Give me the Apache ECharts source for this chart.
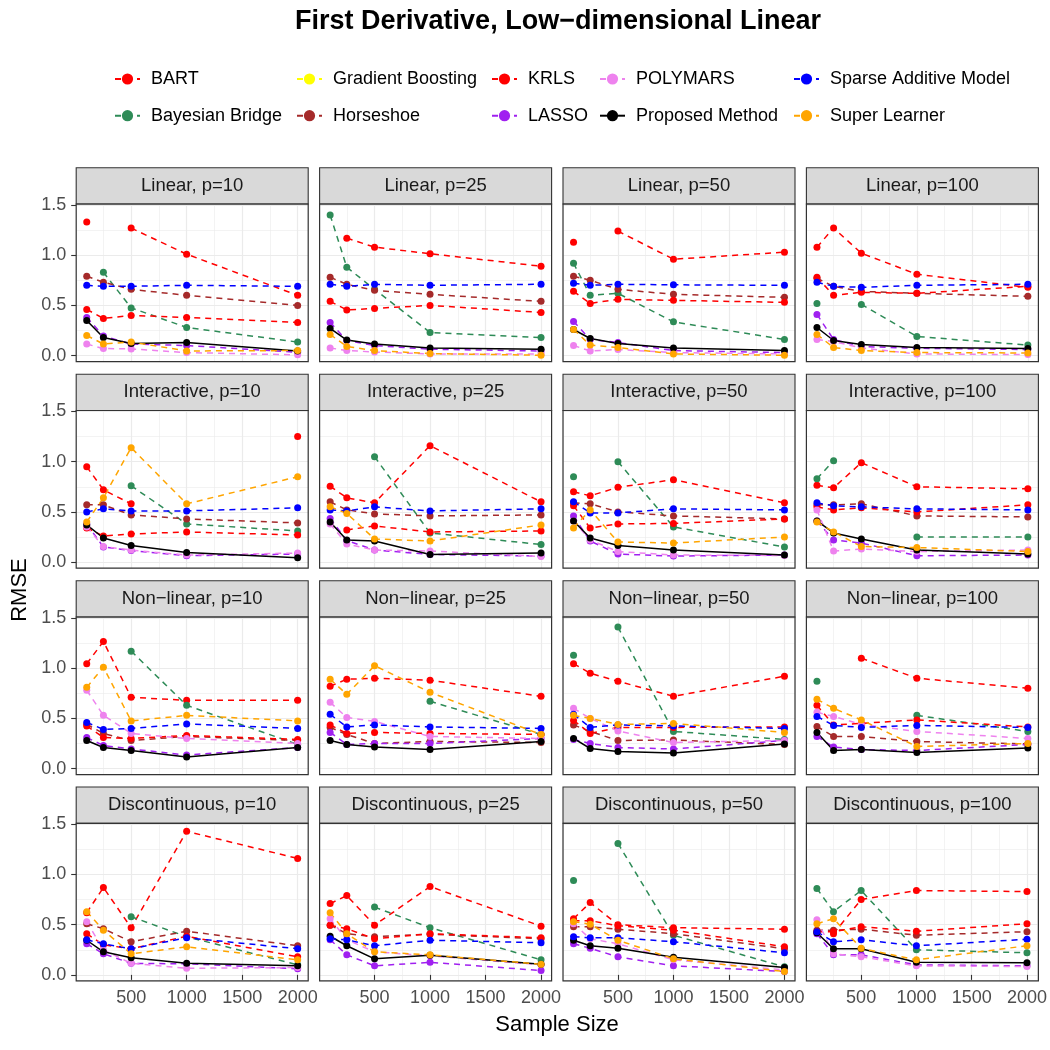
<!DOCTYPE html>
<html><head><meta charset="utf-8">
<script src="https://cdn.jsdelivr.net/npm/echarts@6/dist/echarts.min.js"></script>
<style>html,body{margin:0;padding:0;background:#fff}#c{width:1050px;height:1050px}</style>
</head><body><div id="c"></div>
<script>
// ---------------- data ----------------
const sampleSizes = [100, 250, 500, 1000, 2000];
const panelTitles = [
  'Linear, p=10', 'Linear, p=25', 'Linear, p=50', 'Linear, p=100',
  'Interactive, p=10', 'Interactive, p=25', 'Interactive, p=50', 'Interactive, p=100',
  'Non\u2212linear, p=10', 'Non\u2212linear, p=25', 'Non\u2212linear, p=50', 'Non\u2212linear, p=100',
  'Discontinuous, p=10', 'Discontinuous, p=25', 'Discontinuous, p=50', 'Discontinuous, p=100'
];
const xTickValues = [500, 1000, 1500, 2000];
const yTickValues = [0, 0.5, 1.0, 1.5];
const methodNames = ['BART', 'Bayesian Bridge', 'Gradient Boosting', 'Horseshoe', 'KRLS', 'LASSO',
  'POLYMARS', 'Proposed Method', 'Sparse Additive Model', 'Super Learner'];

// one row per panel (same order as panelTitles), one value per sample size
const bart = [
  [1.33, null, 1.27, 1.01, 0.60], [null, 1.17, 1.08, 1.015, 0.89], [1.13, null, 1.24, 0.96, 1.03], [1.08, 1.27, 1.02, 0.81, 0.68],
  [0.95, 0.72, 0.58, null, 1.25], [0.755, 0.64, 0.59, 1.16, 0.60], [0.70, 0.66, 0.745, 0.82, 0.59], [0.765, 0.74, 0.99, 0.75, 0.73],
  [1.045, 1.266, 0.71, 0.68, 0.68], [0.82, 0.89, 0.90, 0.88, 0.72], [1.045, 0.95, 0.87, 0.72, 0.92], [null, null, 1.10, 0.90, 0.80],
  [0.62, 0.87, 0.47, 1.43, 1.16], [0.71, 0.79, 0.495, 0.88, 0.485], [0.56, 0.72, 0.50, 0.47, 0.455], [null, 0.41, 0.75, 0.84, 0.83]
];
const bayesianBridge = [
  [null, 0.83, 0.475, 0.28, 0.135], [1.40, 0.88, 0.66, 0.23, 0.18], [0.92, 0.60, 0.62, 0.336, 0.16], [0.52, null, 0.51, 0.19, 0.105],
  [null, null, 0.76, 0.38, 0.31], [null, null, 1.05, 0.29, 0.175], [0.85, null, 1.0, 0.35, 0.15], [0.83, 1.01, null, 0.25, 0.25],
  [null, null, 1.17, 0.63, 0.24], [null, null, null, 0.67, 0.34], [1.13, null, 1.41, 0.37, 0.29], [0.87, null, null, 0.53, 0.37],
  [null, null, 0.58, 0.38, 0.10], [null, null, 0.675, 0.47, 0.15], [0.94, null, 1.31, 0.395, 0.08], [0.86, 0.63, 0.84, 0.25, 0.22]
];
const gradientBoosting = [];   // no visible values in the reference
const horseshoe = [
  [0.79, 0.73, 0.66, 0.60, 0.50], [0.78, 0.71, 0.65, 0.61, 0.54], [0.79, 0.75, 0.66, 0.61, 0.58], [0.77, 0.69, 0.64, 0.62, 0.59],
  [0.57, 0.57, 0.47, 0.43, 0.39], [0.60, 0.52, 0.48, 0.46, 0.47], [0.59, 0.58, 0.50, 0.46, 0.43], [0.57, 0.57, 0.58, 0.46, 0.45],
  [0.44, 0.35, 0.28, 0.32, 0.28], [0.41, 0.34, 0.25, 0.27, 0.26], [0.435, 0.37, 0.28, 0.285, 0.24], [0.42, 0.32, 0.32, 0.27, 0.245],
  [0.51, 0.46, 0.33, 0.435, 0.29], [0.495, 0.41, 0.38, 0.405, 0.36], [0.48, 0.48, 0.455, 0.41, 0.26], [0.445, 0.445, 0.455, 0.395, 0.43]
];
const krls = [
  [0.46, 0.37, 0.40, 0.38, 0.33], [0.54, 0.455, 0.47, 0.50, 0.43], [0.64, 0.52, 0.56, 0.55, 0.53], [0.78, 0.60, 0.63, 0.62, 0.69],
  [0.34, 0.26, 0.28, 0.30, 0.27], [null, 0.32, 0.36, 0.30, 0.31], [0.56, 0.34, 0.38, 0.385, 0.43], [0.55, 0.52, 0.54, 0.50, 0.57],
  [0.425, 0.31, 0.30, 0.33, 0.29], [0.435, 0.35, 0.36, 0.35, 0.34], [0.48, 0.35, 0.41, 0.41, 0.415], [0.63, 0.435, 0.45, 0.485, 0.415],
  [0.41, 0.30, 0.26, 0.385, 0.18], [0.495, 0.46, 0.36, 0.41, 0.37], [0.54, 0.54, 0.49, 0.445, 0.28], [0.43, 0.43, 0.48, 0.435, 0.51]
];
const lasso = [
  [0.38, 0.195, 0.115, 0.10, 0.033], [0.33, 0.15, 0.10, 0.063, 0.046], [0.34, 0.16, 0.13, 0.05, 0.03], [0.41, 0.16, 0.09, 0.073, 0.06],
  [0.38, 0.15, 0.115, 0.063, 0.08], [0.435, 0.215, 0.12, 0.076, 0.06], [0.46, 0.21, 0.08, 0.06, 0.07], [0.41, 0.22, 0.19, 0.063, 0.07],
  [0.31, 0.23, 0.195, 0.135, 0.21], [0.36, 0.24, 0.25, 0.25, 0.30], [0.29, 0.25, 0.21, 0.195, 0.28], [0.32, 0.215, 0.19, 0.18, 0.24],
  [0.31, 0.21, 0.115, 0.11, 0.06], [0.35, 0.20, 0.09, 0.125, 0.043], [0.31, 0.265, 0.18, 0.09, 0.033], [0.41, 0.20, 0.20, 0.10, 0.09]
];
const polymars = [
  [0.115, 0.07, 0.066, 0.03, 0.007], [0.076, 0.05, 0.036, 0.016, 0.016], [0.10, 0.046, 0.06, 0.03, 0.016], [0.16, 0.14, 0.076, 0.016, 0.01],
  [0.35, 0.155, 0.12, 0.07, 0.09], [0.38, 0.18, 0.12, 0.11, 0.056], [0.41, 0.22, 0.105, 0.07, 0.066], [0.52, 0.11, 0.13, 0.105, 0.12],
  [0.78, 0.53, 0.35, 0.30, 0.25], [0.66, 0.51, 0.47, 0.32, 0.30], [0.60, 0.50, 0.375, 0.26, 0.28], [0.56, 0.52, 0.44, 0.37, 0.30],
  [0.53, 0.25, 0.115, 0.066, 0.073], [0.56, 0.35, 0.23, 0.19, 0.10], [0.51, 0.36, 0.31, 0.15, 0.05], [0.55, 0.21, 0.18, 0.09, 0.083]
];
const proposedMethod = [
  [0.35, 0.18, 0.12, 0.13, 0.046], [0.27, 0.155, 0.115, 0.076, 0.063], [0.26, 0.17, 0.12, 0.076, 0.05], [0.28, 0.15, 0.11, 0.08, 0.07],
  [0.37, 0.24, 0.165, 0.096, 0.043], [0.40, 0.22, 0.21, 0.076, 0.09], [0.41, 0.24, 0.165, 0.12, 0.07], [0.41, 0.29, 0.23, 0.12, 0.08],
  [0.28, 0.21, 0.18, 0.115, 0.21], [0.28, 0.24, 0.215, 0.19, 0.27], [0.30, 0.20, 0.17, 0.155, 0.245], [0.36, 0.18, 0.19, 0.16, 0.205],
  [0.345, 0.23, 0.17, 0.115, 0.09], [0.385, 0.29, 0.16, 0.195, 0.105], [0.345, 0.29, 0.265, 0.175, 0.073], [0.42, 0.26, 0.26, 0.125, 0.12]
];
const sparseAdditive = [
  [0.70, 0.69, 0.69, 0.70, 0.69], [0.71, 0.69, 0.71, 0.70, 0.71], [0.72, 0.70, 0.71, 0.705, 0.70], [0.73, 0.69, 0.68, 0.70, 0.71],
  [0.50, 0.53, 0.51, 0.51, 0.54], [0.52, 0.51, 0.55, 0.51, 0.53], [0.60, 0.49, 0.49, 0.53, 0.52], [0.59, 0.56, 0.55, 0.53, 0.52],
  [0.46, 0.39, 0.40, 0.445, 0.40], [0.54, 0.415, 0.435, 0.415, 0.40], [0.54, 0.41, 0.435, 0.425, 0.40], [0.52, 0.43, 0.41, 0.43, 0.41],
  [0.35, 0.31, 0.26, 0.37, 0.26], [0.36, 0.35, 0.29, 0.345, 0.32], [0.38, 0.37, 0.37, 0.33, 0.22], [0.43, 0.33, 0.35, 0.29, 0.355]
];
const superLearner = [
  [0.20, 0.115, 0.135, 0.046, 0.05], [0.21, 0.09, 0.05, 0.02, 0.003], [0.26, 0.105, 0.08, 0.016, 0.003], [0.21, 0.08, 0.05, 0.03, 0.026],
  [0.40, 0.64, 1.14, 0.58, 0.85], [0.55, 0.485, 0.23, 0.21, 0.37], [0.34, 0.52, 0.20, 0.19, 0.25], [0.40, 0.30, 0.155, 0.145, 0.105],
  [0.81, 1.01, 0.475, 0.53, 0.475], [0.89, 0.74, 1.025, 0.76, 0.34], [0.53, 0.50, 0.44, 0.45, 0.36], [0.69, 0.60, 0.485, 0.22, 0.25],
  [0.63, 0.445, 0.21, 0.28, 0.15], [0.62, 0.41, 0.23, 0.20, 0.105], [0.53, 0.505, 0.345, 0.16, 0.033], [0.51, 0.56, 0.265, 0.15, 0.29]
];

// ---------------- style / layout ----------------
const methodData = [bart, bayesianBridge, gradientBoosting, horseshoe, krls, lasso, polymars, proposedMethod, sparseAdditive, superLearner];
const methodColors = ['#FF0000', '#2E8B57', '#FFFF00', '#A52A2A', '#FF0000', '#A020F0', '#EE82EE', '#000000', '#0000FF', '#FFA500'];
const methodSolid = [false, false, false, false, false, false, false, true, false, false];

const PANEL_LEFT = [76.2, 319.6, 563, 806.4];
const PANEL_TOP = [204, 410.5, 617, 823.3];
const PANEL_W = 232, PANEL_H = 157.6, STRIP_H = 36.3;
const X_MIN = 5, X_MAX = 2095, Y_MIN = -0.06, Y_MAX = 1.51;
const FONT = '"Liberation Sans", Arial, Helvetica, sans-serif';

const grids = [], xAxes = [], yAxes = [], series = [], graphics = [];
for (let g = 0; g < 16; g++) {
  const r = Math.floor(g / 4), c = g % 4;
  const L = PANEL_LEFT[c], T = PANEL_TOP[r];
  grids.push({ left: L, top: T, width: PANEL_W, height: PANEL_H, show: true, backgroundColor: '#fff', borderWidth: 0 });
  xAxes.push({
    gridIndex: g, type: 'value', min: X_MIN, max: X_MAX, minInterval: 500, maxInterval: 500, splitNumber: 4,
    axisLine: { show: false },
    axisTick: { show: r === 3, length: 5, lineStyle: { color: '#333', width: 1.1 }, customValues: xTickValues },
    axisLabel: { show: r === 3, customValues: xTickValues, fontSize: 18, color: '#4D4D4D', fontFamily: FONT, margin: 8,
      formatter: v => String(Math.round(v)) },
    splitLine: { show: true, lineStyle: { color: '#EBEBEB', width: 1.2 } }
  });
  xAxes.push({
    gridIndex: g, type: 'value', min: X_MIN + 250, max: X_MAX + 250, minInterval: 500, maxInterval: 500, splitNumber: 4,
    axisLine: { show: false }, axisTick: { show: false }, axisLabel: { show: false },
    splitLine: { show: true, lineStyle: { color: '#EBEBEB', width: 0.6 } }
  });
  yAxes.push({
    gridIndex: g, type: 'value', min: Y_MIN, max: Y_MAX, minInterval: 0.5, maxInterval: 0.5, splitNumber: 3,
    axisLine: { show: false },
    axisTick: { show: c === 0, length: 5, lineStyle: { color: '#333', width: 1.1 }, customValues: yTickValues },
    axisLabel: { show: c === 0, customValues: yTickValues, fontSize: 18, color: '#4D4D4D', fontFamily: FONT, margin: 10,
      formatter: v => Number(v).toFixed(1) },
    splitLine: { show: true, lineStyle: { color: '#EBEBEB', width: 1.2 } }
  });
  yAxes.push({
    gridIndex: g, type: 'value', min: Y_MIN + 0.25, max: Y_MAX + 0.25, minInterval: 0.5, maxInterval: 0.5, splitNumber: 3,
    axisLine: { show: false }, axisTick: { show: false }, axisLabel: { show: false },
    splitLine: { show: true, lineStyle: { color: '#EBEBEB', width: 0.6 } }
  });
  methodNames.forEach((name, m) => {
    const rows = methodData[m][g] || [];
    series.push({
      type: 'line', name, xAxisIndex: 2 * g, yAxisIndex: 2 * g,
      data: rows.map((v, k) => [sampleSizes[k], v]),
      symbol: 'circle', symbolSize: 7, showSymbol: true, showAllSymbol: true,
      lineStyle: { color: methodColors[m], width: 1.5, type: methodSolid[m] ? 'solid' : [6, 5] },
      itemStyle: { color: methodColors[m] },
      emphasis: { disabled: true }, silent: true, animation: false
    });
  });
  graphics.push({ type: 'rect', shape: { x: L, y: T - STRIP_H, width: PANEL_W, height: STRIP_H },
    style: { fill: '#D9D9D9', stroke: '#333333', lineWidth: 1.1 }, z: 100 });
  graphics.push({ type: 'text', x: L + PANEL_W / 2, y: T - STRIP_H / 2,
    style: { text: panelTitles[g], fill: '#1A1A1A', font: '18.5px ' + FONT, textAlign: 'center', textVerticalAlign: 'middle' }, z: 101 });
  graphics.push({ type: 'rect', shape: { x: L, y: T, width: PANEL_W, height: PANEL_H },
    style: { fill: null, stroke: '#333333', lineWidth: 1.2 }, z: 100 });
}

graphics.push({ type: 'text', x: 558, y: 22, style: { text: 'First Derivative, Low\u2212dimensional Linear',
  fill: '#000', font: 'bold 27px ' + FONT, textAlign: 'center', textVerticalAlign: 'middle' }, z: 101 });
graphics.push({ type: 'text', x: 557, y: 1025, style: { text: 'Sample Size', fill: '#000', font: '22px ' + FONT,
  textAlign: 'center', textVerticalAlign: 'middle' }, z: 101 });
graphics.push({ type: 'text', x: 20, y: 590, rotation: Math.PI / 2, style: { text: 'RMSE', fill: '#000', font: '22px ' + FONT,
  textAlign: 'center', textVerticalAlign: 'middle' }, z: 101 });

const legendCols = [[0, 1], [2, 3], [4, 5], [6, 7], [8, 9]];
const legendLeft = [109, 291, 486, 594, 788];
const legends = legendCols.map((idx, i) => ({
  orient: 'vertical', left: legendLeft[i], top: 64, itemWidth: 25, itemHeight: 14, itemGap: 16.7,
  selectedMode: false, data: idx.map(k => methodNames[k]),
  textStyle: { fontSize: 18, color: '#000', fontFamily: FONT, padding: [0, 0, 0, 6], lineHeight: 20 }
}));

const chart = echarts.init(document.getElementById('c'), null, { renderer: 'canvas' });
chart.setOption({
  backgroundColor: '#fff', animation: false,
  grid: grids, xAxis: xAxes, yAxis: yAxes, series, legend: legends, graphic: graphics
});
</script></body></html>
